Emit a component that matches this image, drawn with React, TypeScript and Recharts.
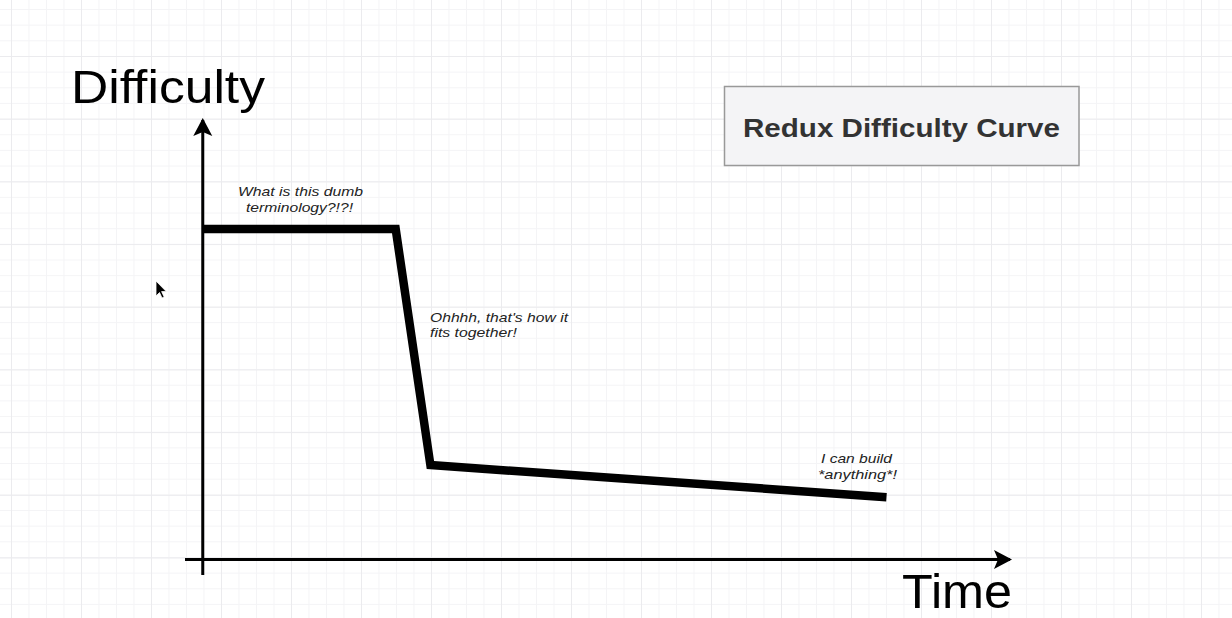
import { Line, LineChart, ReferenceLine, XAxis, YAxis } from "recharts";

// the hand-drawn curve
const timePoints = [0, 23.9, 28.2, 84.7];
const difficultyPoints = [75.2, 75.2, 21.5, 14.2];

const timeDomain = [-2.2, 100];
const difficultyDomain = [-3.5, 100];

const notes = [
  { lines: ["What is this dumb", "terminology?!?!"], x: [238, 246], y: [196, 212], len: [125, 107] },
  { lines: ["Ohhhh, that's how it", "fits together!"], x: [430, 430], y: [322, 337], len: [138, 87] },
  { lines: ["I can build", "*anything*!"], x: [821, 818], y: [463, 479], len: [71, 79] },
];

const data = timePoints.map((t, i) => ({ time: t, difficulty: difficultyPoints[i] }));

const arrowLine = (p: any) => (
  <line x1={p.x1} y1={p.y1} x2={p.x2} y2={p.y2} stroke="#000" strokeWidth={3} markerEnd="url(#arrowHead)" />
);

const gridBg = {
  backgroundColor: "#fff",
  backgroundImage: [
    "linear-gradient(to right, #ebebee 1px, transparent 1px)",
    "linear-gradient(to bottom, #ebebee 1px, transparent 1px)",
    "linear-gradient(to right, #f4f4f6 1px, transparent 1px)",
    "linear-gradient(to bottom, #f4f4f6 1px, transparent 1px)",
  ].join(","),
  backgroundSize: "70px 100%, 100% 62.7px, 17.5px 100%, 100% 15.67px",
  backgroundPosition: "11px 0, 0 56px, 11px 0, 0 9px",
};

export default function App() {
  return (
    <div style={{ position: "absolute", left: 0, top: 0, width: 1232, height: 618, ...gridBg }}>
      <LineChart width={1232} height={618} data={data} margin={{ top: 120, left: 185, right: 222, bottom: 43 }}>
        <defs>
          <marker id="arrowHead" viewBox="0 0 18 20" refX={16} refY={10} markerWidth={18} markerHeight={20} markerUnits="userSpaceOnUse" orient="auto">
            <path d="M0,0.5 L18,10 L0,19.5 L4,10 Z" fill="#000" />
          </marker>
        </defs>
        <XAxis dataKey="time" type="number" domain={timeDomain} hide height={0} />
        <YAxis type="number" domain={difficultyDomain} hide width={0} />
        <ReferenceLine segment={[{ x: -2.2, y: 0 }, { x: 100, y: 0 }]} shape={arrowLine} />
        <ReferenceLine segment={[{ x: 0, y: -3.5 }, { x: 0, y: 100 }]} shape={arrowLine} />
        <Line
          dataKey="difficulty"
          type="linear"
          stroke="#000"
          strokeWidth={8.5}
          strokeLinejoin="miter"
          dot={false}
          activeDot={false}
          isAnimationActive={false}
        />
      </LineChart>
      <svg width={1232} height={618} style={{ position: "absolute", left: 0, top: 0, pointerEvents: "none" }}>
        <g fontFamily="'Liberation Sans', Arial, sans-serif">
          <text x={71} y={103} fontSize={46} fill="#000" textLength={194} lengthAdjust="spacingAndGlyphs">Difficulty</text>
          <text x={902} y={608} fontSize={48} fill="#000" textLength={110} lengthAdjust="spacingAndGlyphs">Time</text>
          <rect x={724.5} y={86.5} width={354.5} height={79} fill="#f4f4f6" stroke="#999" strokeWidth={1.5} />
          <text x={743} y={137} fontSize={25} fontWeight="bold" fill="#333" textLength={317} lengthAdjust="spacingAndGlyphs">Redux Difficulty Curve</text>
          {notes.map((n, i) =>
            n.lines.map((l, j) => (
              <text key={i + "-" + j} x={n.x[j]} y={n.y[j]} fontSize={13} fontStyle="italic" fill="#222" textLength={n.len[j]} lengthAdjust="spacingAndGlyphs">{l}</text>
            ))
          )}
          <path d="M156,281 L156,296 L159.5,292.5 L162,298 L164.2,297 L161.6,291.6 L166.3,291.6 Z" fill="#000" stroke="#fff" strokeWidth={0.8} />
        </g>
      </svg>
    </div>
  );
}
